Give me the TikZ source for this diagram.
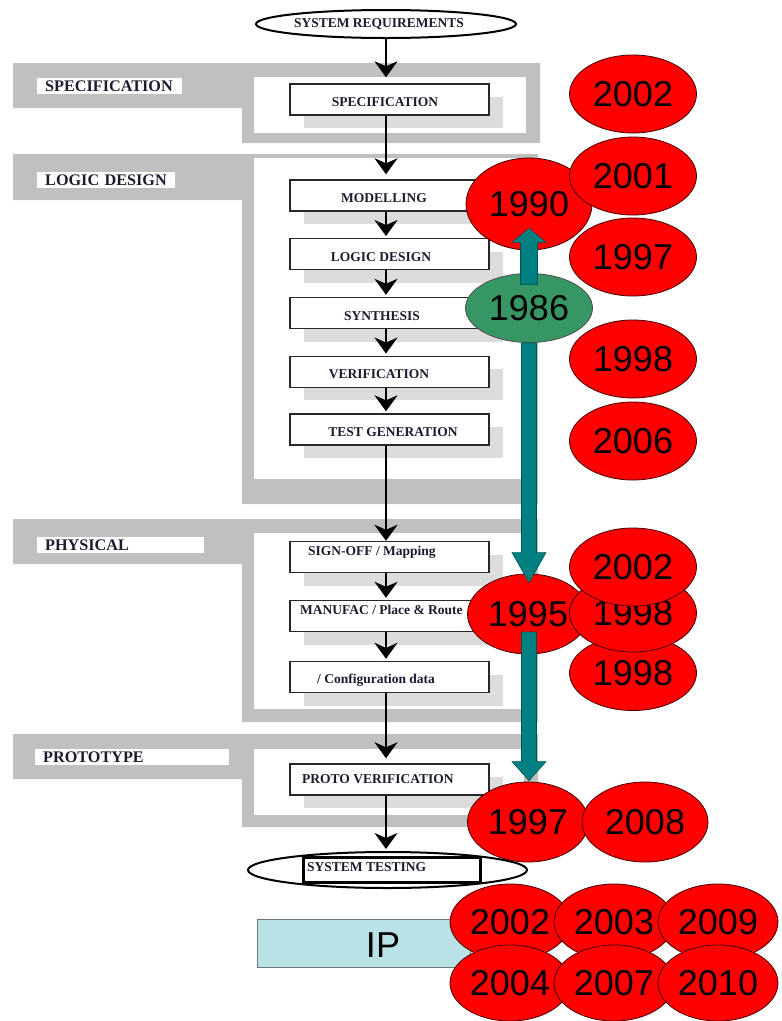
\documentclass[tikz,border=0pt]{standalone}
\usepackage{fontspec}
\setmainfont{Liberation Serif}
\newfontfamily\yearfont{Liberation Sans}
\usetikzlibrary{shapes.geometric,arrows.meta,calc}

\definecolor{framegray}{RGB}{192,192,192}
\definecolor{shadowgray}{RGB}{220,220,220}
\definecolor{textnavy}{RGB}{28,28,48}
\definecolor{boxline}{RGB}{40,40,40}
\definecolor{yrred}{RGB}{255,0,0}
\definecolor{yrline}{RGB}{70,0,0}
\definecolor{yrgreen}{RGB}{54,150,100}
\definecolor{tealfill}{RGB}{0,128,128}
\definecolor{tealline}{RGB}{0,80,80}
\definecolor{ipfill}{RGB}{185,226,230}
\definecolor{ipline}{RGB}{110,120,120}

\begin{document}
\begin{tikzpicture}[x=1pt,y=-1pt,
  framefill/.style={fill=framegray},
  sectlabel/.style={fill=white, inner sep=0pt, anchor=north west, align=left,
    font=\fontsize{16.2}{17}\selectfont\bfseries, text=textnavy, minimum height=16pt},
  stepbox/.style={rectangle, draw=boxline, line width=1.4pt, fill=white,
    minimum width=199pt, minimum height=31pt, inner sep=0pt},
  shadowbox/.style={rectangle, fill=shadowgray, minimum width=199pt, minimum height=31pt, inner sep=0pt},
  boxtext/.style={inner sep=0pt, font=\fontsize{13.5}{15}\selectfont\bfseries, text=textnavy},
  endpoint/.style={ellipse, draw=black, line width=2pt, fill=white, inner sep=0pt},
  flow/.style={draw=black, line width=2pt, -{Stealth[length=16pt,width=23pt,inset=5pt]}},
  yr/.style={ellipse, draw=yrline, line width=0.8pt, fill=yrred, inner sep=0pt,
    minimum width=127pt, minimum height=78pt, font=\yearfont\fontsize{36}{36}\selectfont},
  tealarr/.style={fill=tealfill, draw=tealline, line width=0.6pt},
]
\fill[white] (0,0) rectangle (782,1021);
\useasboundingbox (0,0) rectangle (782,1021);

% ---- section frames ----
\fill[framefill] (13,63) rectangle (255,108) (242,63) rectangle (540,143);
\fill[white] (254,77) rectangle (526,133);
\fill[framefill] (13,154) rectangle (255,200) (242,154) rectangle (538,504);
\fill[white] (254,158) rectangle (524,479);
\fill[framefill] (13,519) rectangle (255,564) (242,519) rectangle (538,722);
\fill[white] (254,533) rectangle (524,709);
\fill[framefill] (13,734) rectangle (255,779) (242,734) rectangle (538,827);
\fill[white] (254,749) rectangle (524,815);

% ---- section labels ----
\node[sectlabel, text width=145pt] (lspec) at (37,78) {\hspace*{8pt}SPECIFICATION};
\node[sectlabel, text width=138pt] (llogic) at (37,172) {\hspace*{8pt}LOGIC DESIGN};
\node[sectlabel, text width=167pt] (lphys) at (37,537) {\hspace*{8pt}PHYSICAL};
\node[sectlabel, text width=194pt] (lproto) at (35,749) {\hspace*{8pt}PROTOTYPE};

% ---- flow steps with drop shadows ----
\coordinate (spine) at (386,0);
\foreach \nm/\yy in {spec/99.5, mod/195.5, logic/254.25, syn/313, ver/371.75, tgen/429.5,
                     sign/557, manu/616, conf/677, proto/779.5}{
  \node[shadowbox] (s\nm) at (403.5,\yy+13) {};
  \node[stepbox] (b\nm) at (389.5,\yy) {};
}

\node[boxtext] (tspec) at (385,102.5) {SPECIFICATION};
\node[boxtext] (tmod) at (384,198) {MODELLING};
\node[boxtext] (tlogic) at (381,257) {LOGIC DESIGN};
\node[boxtext] (tsyn) at (382,316) {SYNTHESIS};
\node[boxtext] (tver) at (379,374) {VERIFICATION};
\node[boxtext] (ttgen) at (393,432) {TEST GENERATION};
\node[boxtext, anchor=west] (tsign) at (308,552) {SIGN-OFF / Mapping};
\node[boxtext, anchor=west] (tmanu) at (300,610) {MANUFAC / Place \& Route};
\node[boxtext, anchor=west] (tconf) at (317,680) {/ Configuration data};
\node[boxtext, anchor=west] (tproto) at (302,779) {PROTO VERIFICATION};

% ---- start and end ----
\node[endpoint, minimum width=260pt, minimum height=28pt] (ereq) at (386,24) {};
\node[boxtext] (treq) at (379,24) {SYSTEM REQUIREMENTS};
\node[endpoint, minimum width=279pt, minimum height=36pt] (etest) at (387.5,870) {};
\node[rectangle, draw=black, line width=3pt, fill=white, inner sep=0pt,
      minimum width=177pt, minimum height=25pt] (rtest) at (391.5,869.5) {};
\node[boxtext, anchor=west] (ttest) at (307,867) {SYSTEM TESTING};

% ---- flow connectors ----
\draw[flow, shorten >=6pt] (ereq.south -| spine) -- (bspec.north -| spine);
\draw[flow, shorten >=5pt] (bspec.south -| spine) -- (bmod.north -| spine);
\draw[flow, shorten >=2pt] (bmod.south -| spine) -- (blogic.north -| spine);
\draw[flow, shorten >=2pt] (blogic.south -| spine) -- (bsyn.north -| spine);
\draw[flow, shorten >=2pt] (bsyn.south -| spine) -- (bver.north -| spine);
\draw[flow, shorten >=2pt] (bver.south -| spine) -- (btgen.north -| spine);
\draw[flow, line width=2.8pt] (btgen.south -| spine) -- (bsign.north -| spine);
\draw[flow, shorten >=2pt] (bsign.south -| spine) -- (bmanu.north -| spine);
\draw[flow, shorten >=2pt] (bmanu.south -| spine) -- (bconf.north -| spine);
\draw[flow, shorten >=5pt] (bconf.south -| spine) -- (bproto.north -| spine);
\draw[flow, shorten >=2pt] (bproto.south -| spine) -- (etest.north -| spine);

% ---- IP block ----
\node[rectangle, draw=ipline, line width=1pt, fill=ipfill, inner sep=0pt,
      minimum width=213pt, minimum height=48pt, anchor=north west] (ip) at (257,919) {};
\node[inner sep=0pt, font=\yearfont\fontsize{36}{36}\selectfont] (tip) at (383,945) {IP};

% ---- years ----
\node[yr, minimum width=126pt, minimum height=92pt] (y1990) at (529,204) {1990};
\node[yr] (y2002a) at (633,94) {2002};
\node[yr] (y2001) at (633,176) {2001};
\node[yr] (y1997a) at (633,257) {1997};
\node[yr, fill=yrgreen, draw=black!70, minimum height=69pt] (y1986) at (529,308) {1986};
\node[yr] (y1998a) at (633,359) {1998};
\node[yr] (y2006) at (633,441) {2006};

\node[yr, minimum width=121pt, minimum height=80pt] (y1995) at (528,614) {1995};
\node[yr, minimum height=75pt] (y1998c) at (633,673) {1998};
\node[yr] (y1998b) at (633,613) {1998};
\node[yr] (y2002b) at (633,567) {2002};

\node[yr, minimum width=121pt, minimum height=80pt] (y1997b) at (528,822) {1997};
\node[yr, minimum width=126pt, minimum height=80pt] (y2008) at (645,822) {2008};

\node[yr, minimum width=120pt, minimum height=76pt] (g2002) at (510,922) {2002};
\node[yr, minimum width=120pt, minimum height=76pt] (g2003) at (614,922) {2003};
\node[yr, minimum width=120pt, minimum height=76pt] (g2009) at (718,922) {2009};
\node[yr, minimum width=120pt, minimum height=76pt] (g2004) at (510,983) {2004};
\node[yr, minimum width=120pt, minimum height=76pt] (g2007) at (614,983) {2007};
\node[yr, minimum width=120pt, minimum height=76pt] (g2010) at (718,983) {2010};

% ---- block arrows between years ----
\filldraw[tealarr] let \p1=(y1986.north), \p2=(y1990.south) in
  (\x1-8.5pt,\y1-11.5pt) -- (\x1-8.5pt,\y2+8pt) -- (\x1-17pt,\y2+8pt) -- (\x1,\y2+22pt)
  -- (\x1+17pt,\y2+8pt) -- (\x1+8.5pt,\y2+8pt) -- (\x1+8.5pt,\y1-11.5pt) -- cycle;
\filldraw[tealarr] let \p1=(y1986.south), \p2=(y1995.north) in
  (\x1-7.5pt,\y1) -- (\x1-7.5pt,\y2+21pt) -- (\x1-17pt,\y2+21pt) -- (\x1,\y2-9pt)
  -- (\x1+17pt,\y2+21pt) -- (\x1+7.5pt,\y2+21pt) -- (\x1+7.5pt,\y1) -- cycle;
\filldraw[tealarr] let \p1=(y1995.center), \p2=(y1997b.north) in
  (\x1-6.5pt,\y1-18pt) -- (\x1-6.5pt,\y2+20pt) -- (\x1-16pt,\y2+20pt) -- (\x1+1pt,\y2+1pt)
  -- (\x1+18pt,\y2+20pt) -- (\x1+8.5pt,\y2+20pt) -- (\x1+8.5pt,\y1-18pt) -- cycle;
\end{tikzpicture}
\end{document}
